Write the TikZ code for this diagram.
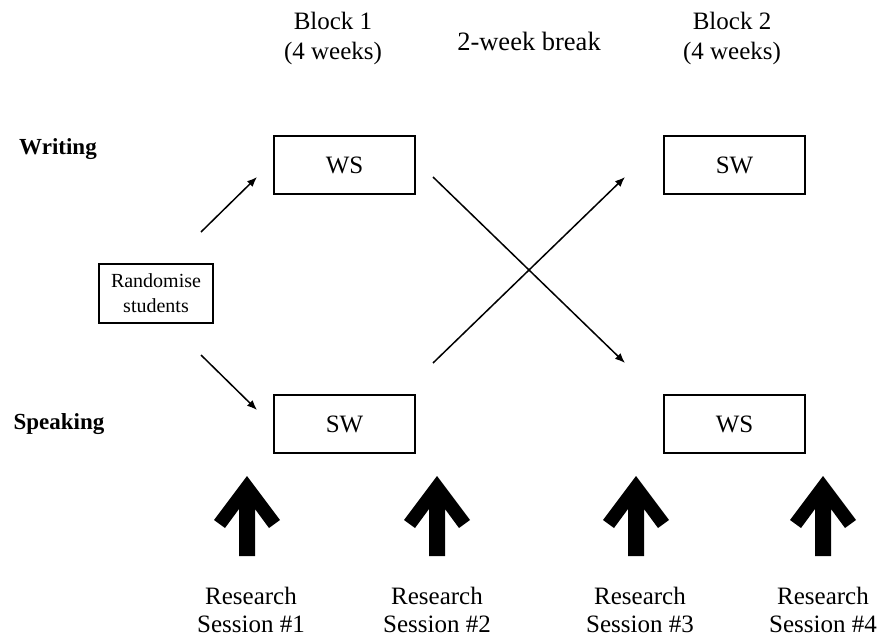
\documentclass[tikz,border=0pt]{standalone}
\usepackage{fontspec}
\setmainfont{Liberation Serif}
\usetikzlibrary{arrows.meta}
\begin{document}
\begin{tikzpicture}[x=1pt,y=-1pt,
  cond/.style={draw,line width=2.4pt,minimum width=141pt,minimum height=58pt,inner sep=0pt,font=\fontsize{25}{30}\selectfont},
  randbox/.style={draw,line width=1.3pt,minimum width=114pt,minimum height=59pt,inner sep=0pt,align=center,font=\fontsize{20}{25}\selectfont},
  rowlab/.style={font=\fontsize{23}{27}\selectfont\bfseries},
  head/.style={align=center,font=\fontsize{25}{30}\selectfont},
  sess/.style={align=center,font=\fontsize{25}{28}\selectfont},
  link/.style={line width=1.5pt,-{Latex[length=10pt,width=8pt]}},
  bigup/.pic={\fill (0,476) -- (33,520) -- (22,528) -- (8,509) -- (8,556)
    -- (-8,556) -- (-8,509) -- (-22,528) -- (-33,520) -- cycle;}]
\useasboundingbox (0,0) rectangle (882,637);

% column headings
\node[head] (b1) at (333,38) {Block 1\\(4 weeks)};
\node[head] (brk) at (529,41) {\fontsize{26.5}{30}\selectfont 2-week break};
\node[head] (b2) at (732,38) {Block 2\\(4 weeks)};

% row labels
\node[rowlab] (wr) at (58,149) {Writing};
\node[rowlab] (sp) at (59,424) {Speaking};

% conditions
\node[cond] (ws1) at (344.5,165) {WS};
\node[cond] (sw1) at (344.5,424) {SW};
\node[cond] (sw2) at (734.5,165) {SW};
\node[cond] (ws2) at (734.5,424) {WS};
\node[randbox] (rnd) at (156,293.5) {Randomise\\students};

% arrow end points
\coordinate (r1) at (201,232);
\coordinate (r2) at (201,355);
\coordinate (w1) at (257,177);
\coordinate (s1) at (257,410);
\coordinate (wa) at (433,177);
\coordinate (sa) at (433,363);
\coordinate (wb) at (625,363);
\coordinate (sb) at (625,177);

\draw[link] (r1) -- (w1);
\draw[link] (r2) -- (s1);
\draw[link] (wa) -- (wb);
\draw[link] (sa) -- (sb);

% research sessions
\pic at (247,0) {bigup};
\pic at (437,0) {bigup};
\pic at (636,0) {bigup};
\pic at (823,0) {bigup};
\node[sess] (rs1) at (251,610) {Research\\Session \#1};
\node[sess] (rs2) at (437,610) {Research\\Session \#2};
\node[sess] (rs3) at (640,610) {Research\\Session \#3};
\node[sess] (rs4) at (823,610) {Research\\Session \#4};
\end{tikzpicture}
\end{document}
